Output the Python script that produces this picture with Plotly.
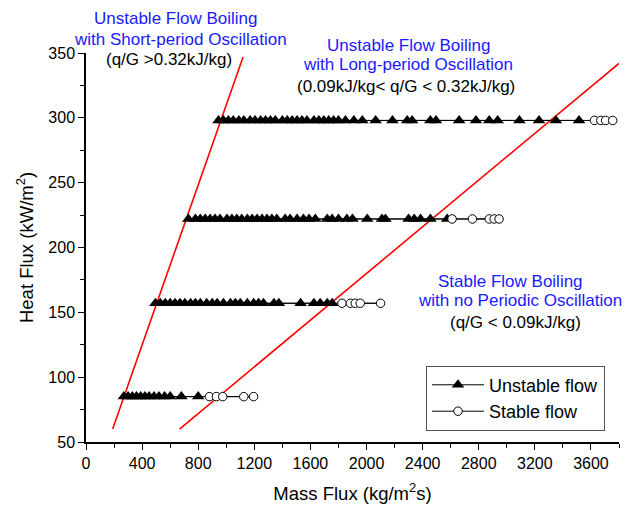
import plotly.graph_objects as go

# ---------------- data ----------------
heat_flux_levels = [298, 222, 157, 85]

unstable_298 = [945, 980, 1015, 1050, 1090, 1125, 1170, 1205, 1245, 1280, 1315, 1350, 1400,
                1435, 1470, 1505, 1540, 1575, 1625, 1660, 1695, 1730, 1765, 1800, 1850, 1910,
                1970, 2065, 2185, 2290, 2325, 2455, 2495, 2660, 2780, 2875, 2935, 3090, 3230,
                3350, 3515]
stable_298 = [3625, 3670, 3705, 3755]

unstable_222 = [730, 780, 815, 850, 885, 920, 955, 1005, 1040, 1075, 1110, 1150, 1185, 1220,
                1255, 1290, 1325, 1360, 1420, 1455, 1505, 1550, 1590, 1635, 1720, 1755, 1800,
                1860, 1900, 2005, 2110, 2135, 2300, 2340, 2385, 2455, 2575]
stable_222 = [2610, 2755, 2875, 2910, 2945]

unstable_157 = [495, 530, 565, 600, 635, 670, 705, 745, 780, 815, 860, 900, 935, 980, 1030,
                1065, 1100, 1150, 1195, 1230, 1265, 1340, 1375, 1530, 1625, 1670, 1720, 1755]
stable_157 = [1825, 1885, 1920, 1955, 2100]

unstable_85 = [270, 300, 330, 360, 390, 420, 450, 485, 520, 560, 600, 680, 800]
stable_85 = [880, 930, 975, 1125, 1195]

# boundary lines (mass flux, heat flux)
short_line_G = [190, 1120]
short_line_q = [60, 347]
long_line_G = [667, 3800]
long_line_q = [60, 342]

x_ticks = [0, 400, 800, 1200, 1600, 2000, 2400, 2800, 3200, 3600]
y_ticks = [50, 100, 150, 200, 250, 300, 350]

unstable_rows = [unstable_298, unstable_222, unstable_157, unstable_85]
stable_rows = [stable_298, stable_222, stable_157, stable_85]

# ---------------- figure ----------------
fig = go.Figure()
FONT = "Liberation Sans, Arial, Helvetica, sans-serif"

# red boundary lines
for gx, qy in [(short_line_G, short_line_q), (long_line_G, long_line_q)]:
    fig.add_trace(go.Scatter(x=gx, y=qy, mode="lines", line=dict(color="#ff0000", width=1.6),
                             showlegend=False, hoverinfo="skip"))

# connecting line per row
for q, u, s in zip(heat_flux_levels, unstable_rows, stable_rows):
    xs = u + s
    fig.add_trace(go.Scatter(x=xs, y=[q] * len(xs), mode="lines",
                             line=dict(color="black", width=1), showlegend=False,
                             hoverinfo="skip"))

ux, uy, sx, sy = [], [], [], []
for q, u, s in zip(heat_flux_levels, unstable_rows, stable_rows):
    ux += u + [None]
    uy += [q] * len(u) + [None]
    sx += s + [None]
    sy += [q] * len(s) + [None]

fig.add_trace(go.Scatter(x=ux, y=uy, mode="lines+markers", name="Unstable flow",
                         line=dict(color="black", width=1),
                         marker=dict(symbol="triangle-up", size=11, color="black",
                                     line=dict(width=0))))
fig.add_trace(go.Scatter(x=sx, y=sy, mode="lines+markers", name="Stable flow",
                         line=dict(color="black", width=1),
                         marker=dict(symbol="circle", size=8.5, color="white",
                                     line=dict(color="black", width=1))))

# page offset (body margin) handled by shifting the layout
OFF = 8
W, H = 637 - OFF, 513 - OFF
L, R, T, B = 86 - OFF, 18, 53 - OFF, 68
pw, ph = W - L - R, H - T - B


def px_to_paper(px, py):
    return (px - OFF - L) / pw, (H - B - (py - OFF)) / ph


BLUE = "#1a1aff"
texts = [
    ("Unstable Flow Boiling", 175, 18, BLUE),
    ("with Short-period Oscillation", 180, 39, BLUE),
    ("(q/G >0.32kJ/kg)", 169, 60, "black"),
    ("Unstable Flow Boiling", 408, 45, BLUE),
    ("with Long-period Oscillation", 408, 65, BLUE),
    ("(0.09kJ/kg< q/G < 0.32kJ/kg)", 406, 87, "black"),
    ("Stable Flow Boiling", 510, 283, BLUE),
    ("with no Periodic Oscillation", 520, 302, BLUE),
    ("(q/G < 0.09kJ/kg)", 515, 325, "black"),
]
for t, px, py, c in texts:
    ax, ay = px_to_paper(px, py)
    fig.add_annotation(text=t, x=ax, y=ay, xref="paper", yref="paper",
                       showarrow=False, xanchor="center", yanchor="middle",
                       font=dict(family=FONT, size=17, color=c))

lx, ly = px_to_paper(426, 368)

fig.update_layout(
    width=W, height=H,
    margin=dict(l=L, r=R, t=T, b=B),
    paper_bgcolor="white", plot_bgcolor="white",
    font=dict(family=FONT, color="black"),
    legend=dict(x=lx, y=ly, xanchor="left", yanchor="top",
                bordercolor="#555", borderwidth=1, bgcolor="white",
                font=dict(family=FONT, size=18), tracegroupgap=0, itemwidth=52),
    xaxis=dict(range=[0, 3800], tickvals=x_ticks, ticktext=[str(v) for v in x_ticks],
               showline=True, linecolor="black", linewidth=1.5, ticks="outside",
               ticklen=6, tickwidth=1.2, tickcolor="black", showgrid=False, zeroline=False,
               minor=dict(ticks="outside", ticklen=4, dtick=200, tickcolor="black", tickwidth=1.2),
               tickfont=dict(size=16, family=FONT),
               title=dict(text="Mass Flux (kg/m<sup>2</sup>s)", font=dict(size=18.5, family=FONT),
                          standoff=16)),
    yaxis=dict(range=[50, 350], tickvals=y_ticks, ticktext=[str(v) for v in y_ticks],
               showline=True, linecolor="black", linewidth=1.5, ticks="outside",
               ticklen=6, tickwidth=1.2, tickcolor="black", showgrid=False, zeroline=False,
               minor=dict(ticks="outside", ticklen=4, dtick=25, tickcolor="black", tickwidth=1.2),
               tickfont=dict(size=16, family=FONT),
               title=dict(text="Heat Flux (kW/m<sup>2</sup>)", font=dict(size=18.5, family=FONT),
                          standoff=10)),
)

fig.write_html("out.html")
